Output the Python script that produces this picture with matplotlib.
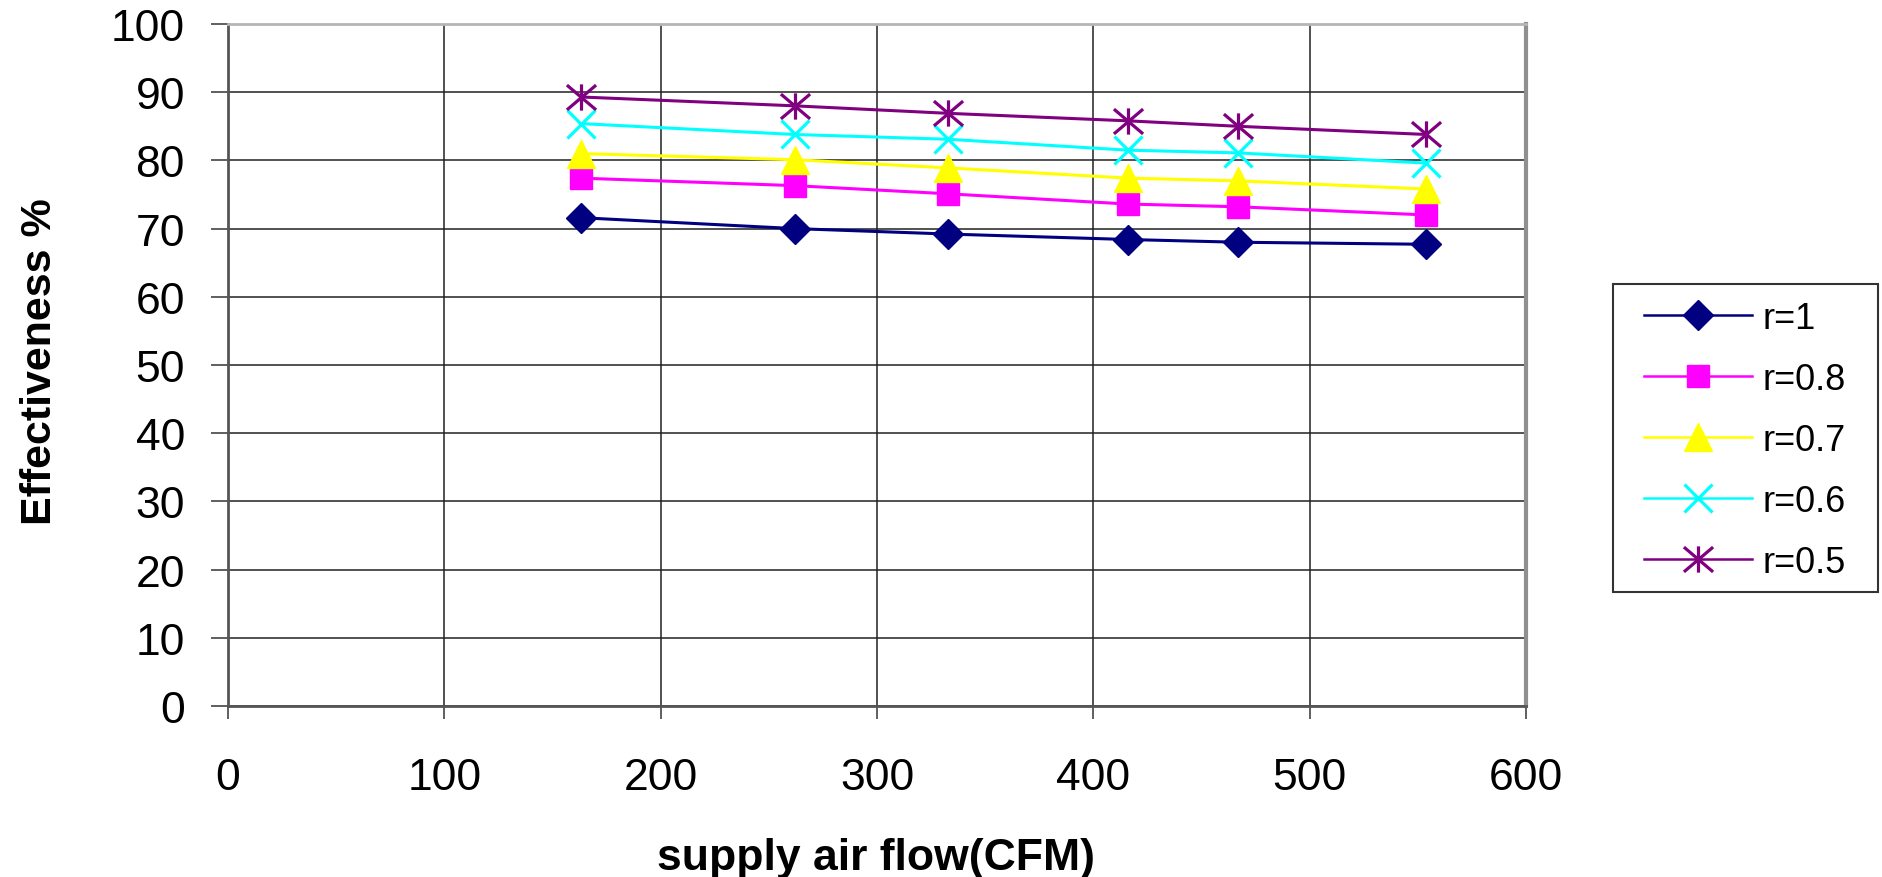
import matplotlib
matplotlib.use("Agg")
import matplotlib.pyplot as plt
from matplotlib.path import Path
from matplotlib.patches import Rectangle

plt.rcParams['font.family'] = ['Liberation Sans', 'DejaVu Sans']

# ---- data ----
flow = [163, 262, 333, 416, 467, 554]
r_1 = [71.6, 70.0, 69.2, 68.4, 68.0, 67.7]
r_08 = [77.4, 76.3, 75.1, 73.6, 73.2, 72.0]
r_07 = [81.0, 80.1, 78.9, 77.4, 77.0, 75.8]
r_06 = [85.4, 83.8, 83.1, 81.5, 81.1, 79.6]
r_05 = [89.3, 88.0, 86.9, 85.8, 85.0, 83.8]
labels = ["r=1", "r=0.8", "r=0.7", "r=0.6", "r=0.5"]
xticks = [0, 100, 200, 300, 400, 500, 600]
yticks = [0, 10, 20, 30, 40, 50, 60, 70, 80, 90, 100]

star = Path([(-1, -0.85), (1, 0.85), (-1, 0.85), (1, -0.85), (0, -0.9), (0, 0.9)],
            [Path.MOVETO, Path.LINETO, Path.MOVETO, Path.LINETO, Path.MOVETO, Path.LINETO])

styles = [
    dict(color="#000080", marker="D", ms=15, mfc="#000080", mec="#000080"),
    dict(color="#FF00FF", marker="s", ms=16, mfc="#FF00FF", mec="#FF00FF"),
    dict(color="#FFFF00", marker="^", ms=20, mfc="#FFFF00", mec="#FFFF00"),
    dict(color="#00FFFF", marker="x", ms=20, mew=2.3),
    dict(color="#800080", marker=star, ms=21, mew=2.3),
]
series = [r_1, r_08, r_07, r_06, r_05]

W, H = 1883, 878
fig = plt.figure(figsize=(W/100, H/100), dpi=100)
ax = fig.add_axes([228/W, 1-707/H, (1526-228)/W, (707-25)/H])

for ys, lab, st in zip(series, labels, styles):
    ax.plot(flow, ys, lw=2.2, label=lab, **st)

ax.set_xlim(0, 600)
ax.set_ylim(0, 100)
ax.set_xticks(xticks)
ax.set_yticks(yticks)
ax.grid(True, color="#222222", lw=1.1)
ax.set_axisbelow(True)

ax.tick_params(axis="x", direction="out", length=9.5, width=1.2, color="#444444",
               labelsize=32, pad=27)
ax.tick_params(axis="y", direction="out", length=12, width=1.2, color="#444444",
               labelsize=32, pad=19)

for s in ["left", "bottom"]:
    ax.spines[s].set_color("#555555")
    ax.spines[s].set_linewidth(2)
ax.spines["top"].set_color("#b5b5b5")
ax.spines["top"].set_linewidth(2)
ax.spines["right"].set_color("#909090")
ax.spines["right"].set_linewidth(3)

fig.text(876/W, 1-859/H, "supply air flow(CFM)", ha="center", va="center",
         fontsize=32, fontweight="bold")
fig.text(40/W, 1-362/H, "Effectiveness %", ha="center", va="center",
         rotation=90, fontsize=31, fontweight="bold")

leg = ax.legend(loc="upper left", bbox_to_anchor=(1644/W, 1-302/H),
                bbox_transform=fig.transFigure, borderaxespad=0,
                fontsize=26, handlelength=3.0, handletextpad=0.28,
                labelspacing=0.72, borderpad=0, frameon=False)
for h in leg.get_lines():
    h.set_linewidth(1.8)

fig.patches.append(Rectangle((1613/W, 1-593/H), (1878-1613)/W, (593-285)/H,
                             transform=fig.transFigure, fill=False,
                             edgecolor="#333333", lw=1.5))

fig.savefig("out.png", dpi=100)
